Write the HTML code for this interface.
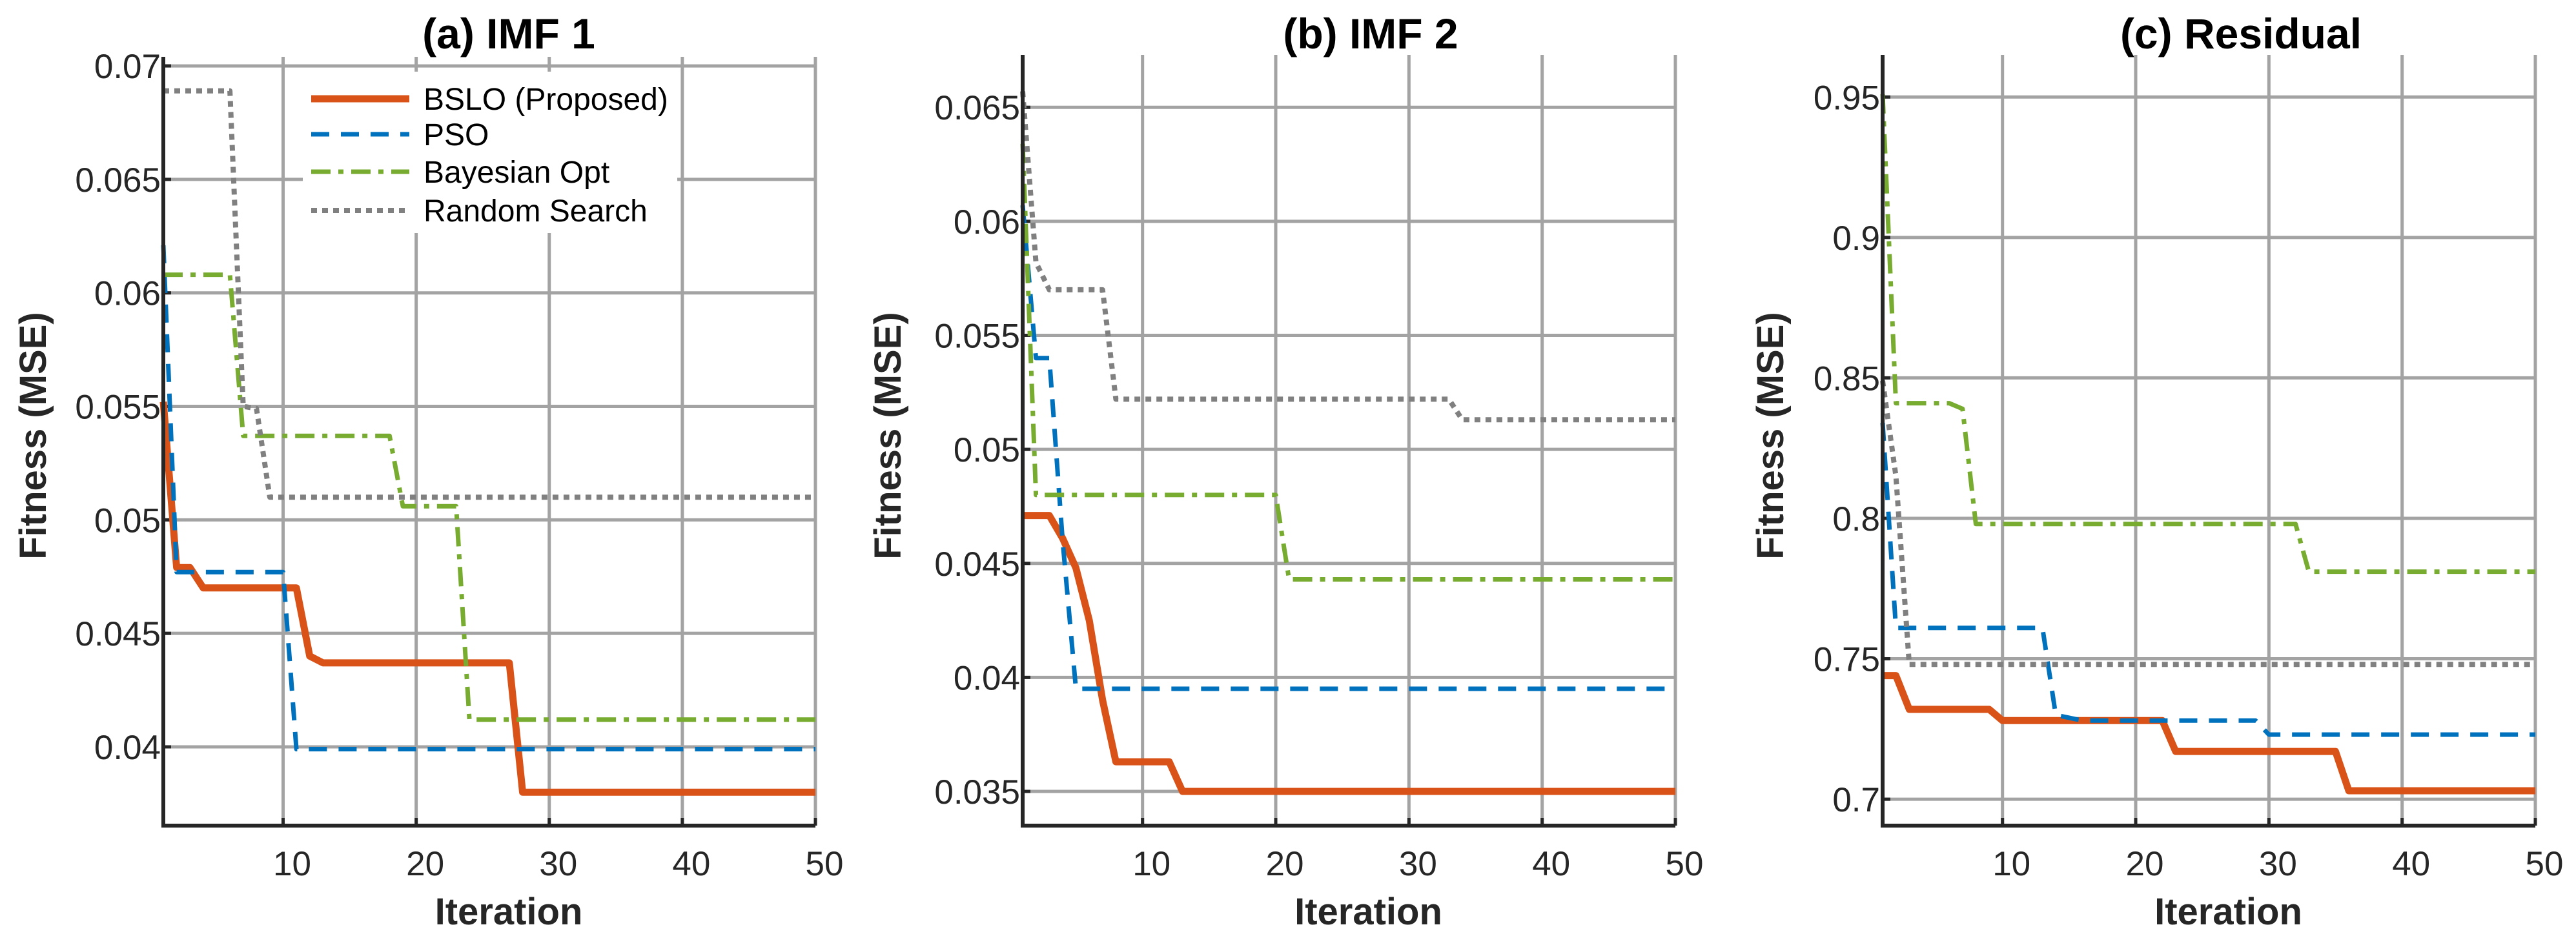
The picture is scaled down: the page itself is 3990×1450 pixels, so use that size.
<!DOCTYPE html>
<html><head><meta charset="utf-8"><style>
html,body{margin:0;padding:0;background:#fff;}
svg{display:block;font-family:"Liberation Sans",Arial,sans-serif;}
</style></head><body>
<svg id="fig" width="3990" height="1450" viewBox="0 0 3990 1450" xmlns="http://www.w3.org/2000/svg"></svg>
<script>
const iters = [];
for (let i = 1; i <= 50; i++) iters.push(i);

// Panel (a) IMF 1
const aBSLO = [0.0552,0.0479,0.0479,0.0470,0.0470,0.0470,0.0470,0.0470,0.0470,0.0470,0.0470,0.0440,0.0437,0.0437,0.0437,0.0437,0.0437,0.0437,0.0437,0.0437,0.0437,0.0437,0.0437,0.0437,0.0437,0.0437,0.0437,0.0380,0.0380,0.0380,0.0380,0.0380,0.0380,0.0380,0.0380,0.0380,0.0380,0.0380,0.0380,0.0380,0.0380,0.0380,0.0380,0.0380,0.0380,0.0380,0.0380,0.0380,0.0380,0.0380];
const aPSO = [0.0621,0.0477,0.0477,0.0477,0.0477,0.0477,0.0477,0.0477,0.0477,0.0477,0.0399,0.0399,0.0399,0.0399,0.0399,0.0399,0.0399,0.0399,0.0399,0.0399,0.0399,0.0399,0.0399,0.0399,0.0399,0.0399,0.0399,0.0399,0.0399,0.0399,0.0399,0.0399,0.0399,0.0399,0.0399,0.0399,0.0399,0.0399,0.0399,0.0399,0.0399,0.0399,0.0399,0.0399,0.0399,0.0399,0.0399,0.0399,0.0399,0.0399];
const aBayes = [0.0608,0.0608,0.0608,0.0608,0.0608,0.0608,0.0537,0.0537,0.0537,0.0537,0.0537,0.0537,0.0537,0.0537,0.0537,0.0537,0.0537,0.0537,0.0506,0.0506,0.0506,0.0506,0.0506,0.0412,0.0412,0.0412,0.0412,0.0412,0.0412,0.0412,0.0412,0.0412,0.0412,0.0412,0.0412,0.0412,0.0412,0.0412,0.0412,0.0412,0.0412,0.0412,0.0412,0.0412,0.0412,0.0412,0.0412,0.0412,0.0412,0.0412];
const aRandom = [0.0689,0.0689,0.0689,0.0689,0.0689,0.0689,0.0550,0.0549,0.0510,0.0510,0.0510,0.0510,0.0510,0.0510,0.0510,0.0510,0.0510,0.0510,0.0510,0.0510,0.0510,0.0510,0.0510,0.0510,0.0510,0.0510,0.0510,0.0510,0.0510,0.0510,0.0510,0.0510,0.0510,0.0510,0.0510,0.0510,0.0510,0.0510,0.0510,0.0510,0.0510,0.0510,0.0510,0.0510,0.0510,0.0510,0.0510,0.0510,0.0510,0.0510];
const aYTicks = [0.04,0.045,0.05,0.055,0.06,0.065,0.07];
const aYLabels = ["0.04","0.045","0.05","0.055","0.06","0.065","0.07"];

// Panel (b) IMF 2
const bBSLO = [0.0471,0.0471,0.0471,0.0461,0.0448,0.0425,0.0390,0.0363,0.0363,0.0363,0.0363,0.0363,0.0350,0.0350,0.0350,0.0350,0.0350,0.0350,0.0350,0.0350,0.0350,0.0350,0.0350,0.0350,0.0350,0.0350,0.0350,0.0350,0.0350,0.0350,0.0350,0.0350,0.0350,0.0350,0.0350,0.0350,0.0350,0.0350,0.0350,0.0350,0.0350,0.0350,0.0350,0.0350,0.0350,0.0350,0.0350,0.0350,0.0350,0.0350];
const bPSO = [0.0607,0.0540,0.0540,0.0460,0.0395,0.0395,0.0395,0.0395,0.0395,0.0395,0.0395,0.0395,0.0395,0.0395,0.0395,0.0395,0.0395,0.0395,0.0395,0.0395,0.0395,0.0395,0.0395,0.0395,0.0395,0.0395,0.0395,0.0395,0.0395,0.0395,0.0395,0.0395,0.0395,0.0395,0.0395,0.0395,0.0395,0.0395,0.0395,0.0395,0.0395,0.0395,0.0395,0.0395,0.0395,0.0395,0.0395,0.0395,0.0395,0.0395];
const bBayes = [0.0634,0.0480,0.0480,0.0480,0.0480,0.0480,0.0480,0.0480,0.0480,0.0480,0.0480,0.0480,0.0480,0.0480,0.0480,0.0480,0.0480,0.0480,0.0480,0.0480,0.0443,0.0443,0.0443,0.0443,0.0443,0.0443,0.0443,0.0443,0.0443,0.0443,0.0443,0.0443,0.0443,0.0443,0.0443,0.0443,0.0443,0.0443,0.0443,0.0443,0.0443,0.0443,0.0443,0.0443,0.0443,0.0443,0.0443,0.0443,0.0443,0.0443];
const bRandom = [0.0657,0.0582,0.0570,0.0570,0.0570,0.0570,0.0570,0.0522,0.0522,0.0522,0.0522,0.0522,0.0522,0.0522,0.0522,0.0522,0.0522,0.0522,0.0522,0.0522,0.0522,0.0522,0.0522,0.0522,0.0522,0.0522,0.0522,0.0522,0.0522,0.0522,0.0522,0.0522,0.0522,0.0513,0.0513,0.0513,0.0513,0.0513,0.0513,0.0513,0.0513,0.0513,0.0513,0.0513,0.0513,0.0513,0.0513,0.0513,0.0513,0.0513];
const bYTicks = [0.035,0.04,0.045,0.05,0.055,0.06,0.065];
const bYLabels = ["0.035","0.04","0.045","0.05","0.055","0.06","0.065"];

// Panel (c) Residual
const cBSLO = [0.744,0.744,0.732,0.732,0.732,0.732,0.732,0.732,0.732,0.728,0.728,0.728,0.728,0.728,0.728,0.728,0.728,0.728,0.728,0.728,0.728,0.728,0.717,0.717,0.717,0.717,0.717,0.717,0.717,0.717,0.717,0.717,0.717,0.717,0.717,0.703,0.703,0.703,0.703,0.703,0.703,0.703,0.703,0.703,0.703,0.703,0.703,0.703,0.703,0.703];
const cPSO = [0.834,0.761,0.761,0.761,0.761,0.761,0.761,0.761,0.761,0.761,0.761,0.761,0.761,0.730,0.729,0.728,0.728,0.728,0.728,0.728,0.728,0.728,0.728,0.728,0.728,0.728,0.728,0.728,0.728,0.723,0.723,0.723,0.723,0.723,0.723,0.723,0.723,0.723,0.723,0.723,0.723,0.723,0.723,0.723,0.723,0.723,0.723,0.723,0.723,0.723];
const cBayes = [0.951,0.841,0.841,0.841,0.841,0.841,0.839,0.798,0.798,0.798,0.798,0.798,0.798,0.798,0.798,0.798,0.798,0.798,0.798,0.798,0.798,0.798,0.798,0.798,0.798,0.798,0.798,0.798,0.798,0.798,0.798,0.798,0.781,0.781,0.781,0.781,0.781,0.781,0.781,0.781,0.781,0.781,0.781,0.781,0.781,0.781,0.781,0.781,0.781,0.781];
const cRandom = [0.849,0.815,0.748,0.748,0.748,0.748,0.748,0.748,0.748,0.748,0.748,0.748,0.748,0.748,0.748,0.748,0.748,0.748,0.748,0.748,0.748,0.748,0.748,0.748,0.748,0.748,0.748,0.748,0.748,0.748,0.748,0.748,0.748,0.748,0.748,0.748,0.748,0.748,0.748,0.748,0.748,0.748,0.748,0.748,0.748,0.748,0.748,0.748,0.748,0.748];
const cYTicks = [0.7,0.75,0.8,0.85,0.9,0.95];
const cYLabels = ["0.7","0.75","0.8","0.85","0.9","0.95"];

const xTicks = [10,20,30,40,50];
const xLabels = ["10","20","30","40","50"];
const seriesNames = ["BSLO (Proposed)","PSO","Bayesian Opt","Random Search"];

const NS = "http://www.w3.org/2000/svg";
const svg = document.getElementById("fig");
function mk(tag, attrs, parent) {
  const e = document.createElementNS(NS, tag);
  for (const k in attrs) e.setAttribute(k, attrs[k]);
  (parent || svg).appendChild(e);
  return e;
}
const styles = [
  {stroke:"#D95319", w:11, dash:null},
  {stroke:"#0072BD", w:7, dash:"28 18"},
  {stroke:"#77AC30", w:7, dash:"30 12 8 12"},
  {stroke:"#808080", w:8, dash:"9 8"}
];

const panels = [
  {key:"a", title:"(a) IMF 1", titleX:788, ylabX:51, L:253, R:1263, T:88, B:1279, ymin:0.03653, ymax:0.0704, yt:aYTicks, yl:aYLabels, data:[aBSLO,aPSO,aBayes,aRandom], legend:true},
  {key:"b", title:"(b) IMF 2", titleX:2123, ylabX:1375, L:1584, R:2595, T:85, B:1279, ymin:0.0335, ymax:0.0673, yt:bYTicks, yl:bYLabels, data:[bBSLO,bPSO,bBayes,bRandom]},
  {key:"c", title:"(c) Residual", titleX:3471, ylabX:2742, L:2916, R:3927, T:85, B:1279, ymin:0.6906, ymax:0.965, yt:cYTicks, yl:cYLabels, data:[cBSLO,cPSO,cBayes,cRandom]}
];

panels.forEach(p => {
  const g = mk("g", {});
  
  
  const xs = v => p.L + (v - 1) / 49 * (p.R - p.L);
  const ys = v => p.B - (v - p.ymin) / (p.ymax - p.ymin) * (p.B - p.T);

  // grid
  p.yt.forEach((t, i) => {
    const y = ys(t);
    const gl = mk("line", {x1:p.L, x2:p.R, y1:y, y2:y, stroke:"#a3a3a3", "stroke-width":5}, g);
    
    
    const tk = mk("line", {x1:p.L, x2:p.L+12, y1:y, y2:y, stroke:"#262626", "stroke-width":5}, g);
    
    
    const tl = mk("text", {x:p.L-4, y:y+19, "text-anchor":"end", "font-size":53, fill:"#262626"}, g);
    tl.textContent = p.yl[i];
    
    
  });
  xTicks.forEach((t, i) => {
    const x = xs(t);
    const gl = mk("line", {x1:x, x2:x, y1:p.T, y2:p.B, stroke:"#a3a3a3", "stroke-width":5}, g);
    
    
    const tk = mk("line", {x1:x, x2:x, y1:p.B, y2:p.B-12, stroke:"#262626", "stroke-width":5}, g);
    
    
    const tl = mk("text", {x:x+14, y:1356, "text-anchor":"middle", "font-size":53, fill:"#262626"}, g);
    tl.textContent = xLabels[i];
    
    
  });

  // series
  p.data.forEach((arr, si) => {
    const pts = arr.map((v, i) => xs(iters[i]).toFixed(1) + "," + ys(v).toFixed(1)).join(" ");
    const st = styles[si];
    const attrs = {points:pts, fill:"none", stroke:st.stroke, "stroke-width":st.w, "stroke-linejoin":"round"};
    if (st.dash) attrs["stroke-dasharray"] = st.dash;
    const pl = mk("polyline", attrs, g);
    
    
  });
  // redraw BSLO on top for visibility of ordering like reference
  // axes
  const ax = mk("polyline", {points:`${p.L},${p.T} ${p.L},${p.B} ${p.R},${p.B}`, fill:"none", stroke:"#262626", "stroke-width":6}, g);
  
  

  // titles
  const tt = mk("text", {x:p.titleX, y:75, "text-anchor":"middle", "font-size":66, "font-weight":"bold", fill:"#000"}, g);
  tt.textContent = p.title;
  
  
  const xl = mk("text", {x:(p.L+p.R)/2 + 30, y:1432, "text-anchor":"middle", "font-size":58, "font-weight":"bold", fill:"#262626"}, g);
  xl.textContent = "Iteration";
  
  
  const yl = mk("text", {x:0, y:0, transform:`translate(${p.ylabX + 20},675) rotate(-90)`, "text-anchor":"middle", "font-size":58, "font-weight":"bold", fill:"#262626"}, g);
  yl.textContent = "Fitness (MSE)";
  
  

  if (p.legend) {
    const lg = mk("g", {}, g);
    
    
    mk("rect", {x:469, y:111, width:580, height:250, fill:"#fff"}, lg);
    const rows = [153, 208, 266, 326];
    seriesNames.forEach((n, i) => {
      const st = styles[i];
      const la = {x1:482, x2:634, y1:rows[i], y2:rows[i], stroke:st.stroke, "stroke-width":st.w};
      if (st.dash) la["stroke-dasharray"] = st.dash;
      const ln = mk("line", la, lg);
      
      
      const tx = mk("text", {x:656, y:rows[i]+17, "font-size":48, fill:"#000"}, lg);
      tx.textContent = n;
      
      
    });
  }
});
</script>
</body></html>
